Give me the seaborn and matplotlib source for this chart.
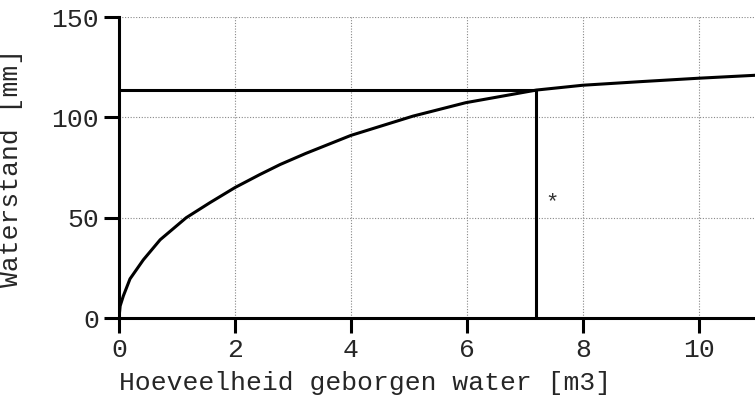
import matplotlib
matplotlib.use("Agg")
import matplotlib.pyplot as plt
import seaborn as sns
import pandas as pd

# curve
volume = [0.0, 0.02, 0.075, 0.19, 0.42, 0.71, 1.16, 1.57, 2.0, 2.43, 2.78, 3.22,
          4.0, 5.07, 5.98, 7.2, 8.0, 9.0, 10.0, 11.0]
level = [0.0, 6.0, 11.0, 19.5, 29.0, 39.0, 50.0, 57.5, 65.0, 71.5, 76.5, 82.0,
         91.0, 100.6, 107.3, 113.6, 116.0, 117.8, 119.5, 121.0]

# reading lines and the star annotation
read_volume = 7.2
read_level = 113.6
star_volume = 7.47
star_level = 57.5

x_ticks = [0, 2, 4, 6, 8, 10]
y_ticks = [0, 50, 100, 150]

sns.set_style("white")
plt.rcParams['font.family'] = ['Liberation Mono', 'DejaVu Sans Mono']

df = pd.DataFrame({"volume": volume, "level": level})

fig = plt.figure(figsize=(7.55, 4.05), dpi=100)
ax = fig.add_axes([0.1576, 0.2148, 1 - 0.1576, 0.958 - 0.2148])

sns.lineplot(data=df, x="volume", y="level", color="black", linewidth=2.2, ax=ax)
ax.plot([0, read_volume], [read_level, read_level], color="black", linewidth=2.2)
ax.plot([read_volume, read_volume], [0, read_level], color="black", linewidth=2.2)
ax.text(star_volume, star_level, "*", fontsize=16, ha="center", va="center", color="#333333")

ax.set_xlim(0, 10.97)
ax.set_ylim(0, 150)
ax.set_xticks(x_ticks)
ax.set_yticks(y_ticks)
ax.grid(True, color="#888888", linestyle=(0, (1, 1.5)), linewidth=0.8)

for side in ["top", "right"]:
    ax.spines[side].set_visible(False)
for side in ["left", "bottom"]:
    ax.spines[side].set_linewidth(2.2)
    ax.spines[side].set_color("black")

ax.tick_params(axis="both", direction="out", length=10.5, width=2.2, color="black",
               labelsize=19, bottom=True, left=True)
ax.tick_params(axis="x", pad=4)
ax.tick_params(axis="y", pad=4)

ax.set_xlabel("Hoeveelheid geborgen water [m3]", fontsize=19)
ax.set_ylabel("Waterstand [mm]", fontsize=19)
ax.xaxis.set_label_coords(0.0, -0.175)
ax.xaxis.label.set_horizontalalignment("left")
ax.yaxis.set_label_coords(-0.151, 0.5)

fig.savefig("out.png", dpi=100)
plt.close(fig)
